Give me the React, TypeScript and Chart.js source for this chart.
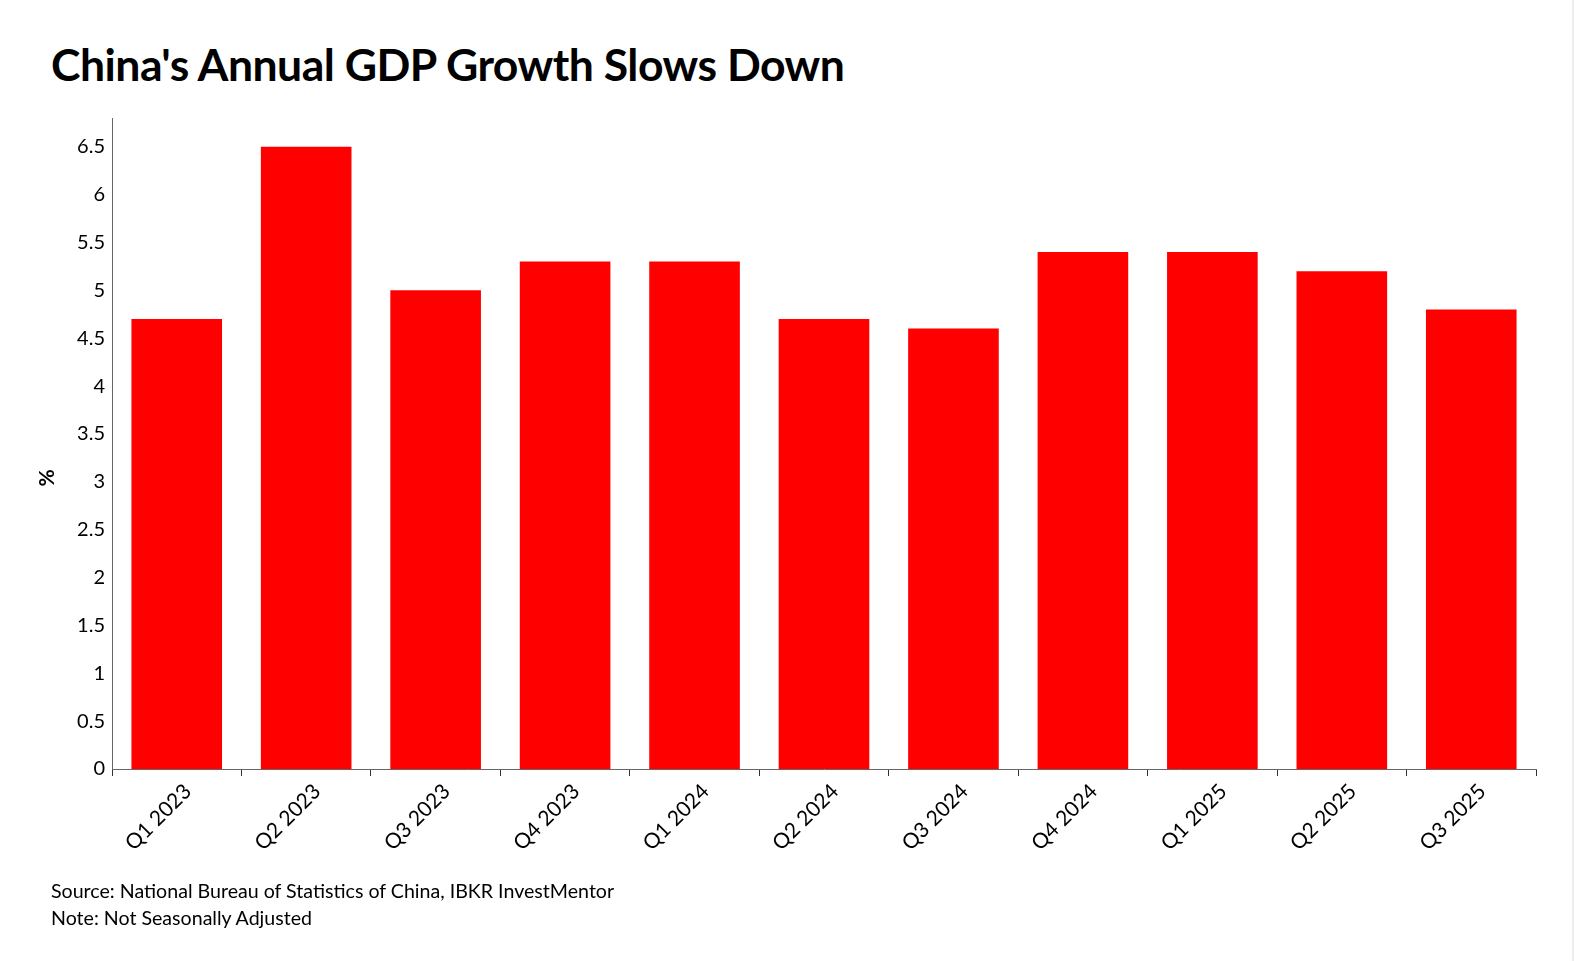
import React, { useEffect, useRef } from "react";
import { Chart, registerables } from "chart.js";

Chart.register(...registerables);

const categories = ["Q1 2023", "Q2 2023", "Q3 2023", "Q4 2023", "Q1 2024", "Q2 2024", "Q3 2024", "Q4 2024", "Q1 2025", "Q2 2025", "Q3 2025"];
const gdpGrowth = [4.7, 6.5, 5.0, 5.3, 5.3, 4.7, 4.6, 5.4, 5.4, 5.2, 4.8];
const yMax = 6.8;
const yStep = 0.5;

const FONT = "Lato, 'Noto Sans', sans-serif";

export default function App() {
  const canvasRef = useRef<HTMLCanvasElement | null>(null);

  useEffect(() => {
    if (!canvasRef.current) return;
    const chart = new Chart(canvasRef.current, {
      type: "bar",
      data: {
        labels: categories,
        datasets: [
          {
            data: gdpGrowth,
            backgroundColor: "#ff0000",
            borderWidth: 0,
            barPercentage: 0.7,
            categoryPercentage: 1,
          },
        ],
      },
      options: {
        animation: false,
        responsive: false,
        maintainAspectRatio: false,
        layout: { padding: { top: 118, right: 38, left: 0, bottom: 0 } },
        plugins: { legend: { display: false }, tooltip: { enabled: false }, title: { display: false } },
        scales: {
          x: {
            offset: true,
            grid: {
              display: true,
              drawOnChartArea: false,
              drawTicks: true,
              tickLength: 7,
              color: "#333",
              offset: true,
            },
            border: { display: true, color: "#666", width: 1 },
            ticks: {
              minRotation: 45,
              maxRotation: 45,
              color: "#000",
              font: { family: FONT, size: 21 },
              padding: 3,
              labelOffset: 11,
            },
            afterFit: (scale: any) => {
              scale.height = 192;
            },
          },
          y: {
            min: 0,
            max: yMax,
            grid: { display: false, drawTicks: false },
            border: { display: true, color: "#666", width: 1 },
            afterBuildTicks: (scale: any) => {
              const t: { value: number }[] = [];
              for (let v = 0; v <= yMax + 1e-9; v += yStep) t.push({ value: Math.round(v * 10) / 10 });
              scale.ticks = t;
            },
            ticks: {
              stepSize: yStep,
              color: "#000",
              font: { family: FONT, size: 20 },
              padding: 7,
              callback: (v: any) => String(v),
            },
            title: { display: false },
            afterFit: (scale: any) => {
              scale.width = 112;
            },
          },
        },
      },
    });
    return () => chart.destroy();
  }, []);

  return (
    <div style={{ position: "fixed", left: 0, top: 0, width: 1574, height: 961, background: "#fff", overflow: "hidden" }}>
      <div
        style={{
          position: "absolute",
          left: 51,
          top: 34,
          fontFamily: FONT,
          fontWeight: 700,
          fontSize: 44.5,
          lineHeight: "60px",
          color: "#000",
          whiteSpace: "nowrap",
          letterSpacing: -0.5,
        }}
      >
        China's Annual GDP Growth Slows Down
      </div>
      <canvas ref={canvasRef} width={1574} height={961} style={{ position: "absolute", left: 0, top: 0, width: 1574, height: 961 }} />
      <div
        style={{
          position: "absolute",
          left: 46,
          top: 478,
          width: 0,
          height: 0,
        }}
      >
        <div
          style={{
            position: "absolute",
            left: -20,
            top: -14,
            width: 40,
            height: 28,
            lineHeight: "28px",
            textAlign: "center",
            transform: "rotate(-90deg)",
            fontFamily: FONT,
            fontWeight: 700,
            fontSize: 21,
            color: "#000",
          }}
        >
          %
        </div>
      </div>
      <div
        style={{
          position: "absolute",
          left: 51,
          top: 877,
          fontFamily: FONT,
          fontSize: 19.6,
          lineHeight: "27px",
          color: "#000",
          whiteSpace: "nowrap",
        }}
      >
        <div>Source: National Bureau of Statistics of China, IBKR InvestMentor</div>
        <div>Note: Not Seasonally Adjusted</div>
      </div>
      <div style={{ position: "absolute", left: 1572, top: 0, width: 2, height: 961, background: "#eee" }} />
    </div>
  );
}
